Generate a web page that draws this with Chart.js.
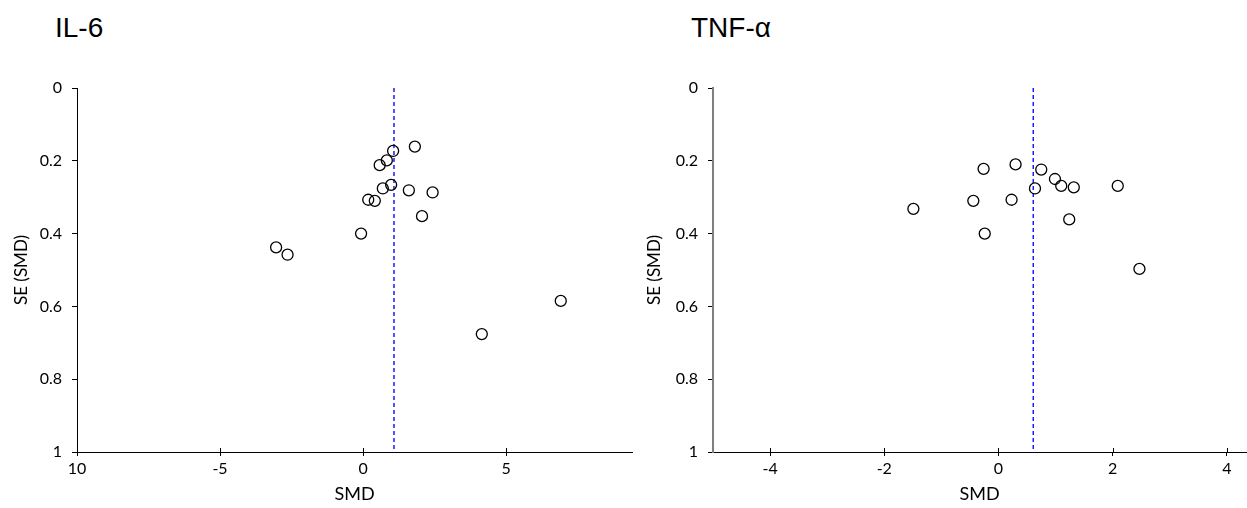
<!DOCTYPE html>
<html>
<head>
<meta charset="utf-8">
<script src="https://cdn.jsdelivr.net/npm/chart.js@4.4.1/dist/chart.umd.min.js"></script>
<style>
    body { margin: 0; background: #fff; width: 1247px; height: 508px; overflow: hidden; position: relative; }
    .panel-title { position: absolute; top: 12px; font-family: "Liberation Sans", Arial, sans-serif; font-size: 28px; color: #000; }
    canvas { position: absolute; top: 0; }
</style>
</head>
<body>
<div class="panel-title" style="left:55px">IL-6</div>
<div class="panel-title" style="left:691px">TNF-α</div>
<canvas id="chart-il6" width="645" height="508" style="left:0"></canvas>
<canvas id="chart-tnf" width="623" height="508" style="left:630px"></canvas>
<script>
// IL-6 studies
const il6Smd = [1.81, 1.05, 0.83, 0.58, 0.98, 0.69, 1.60, 2.43, 0.18, 0.41, 2.06, -0.07, -3.04, -2.64, 6.91, 4.15];
const il6Se  = [0.161, 0.173, 0.199, 0.212, 0.266, 0.276, 0.281, 0.287, 0.307, 0.310, 0.352, 0.400, 0.438, 0.458, 0.585, 0.676];
const il6Pooled = 1.08;
const il6XTicks = [-10, -5, 0, 5];
const il6XLabels = ['10', '-5', '0', '5'];

// TNF-a studies
const tnfSmd = [-1.49, -0.26, 0.30, 0.75, 0.99, 1.10, 1.32, 2.09, 0.64, -0.44, 0.23, 1.24, -0.24, 2.47];
const tnfSe  = [0.332, 0.222, 0.210, 0.224, 0.250, 0.269, 0.273, 0.269, 0.276, 0.310, 0.307, 0.361, 0.400, 0.497];
const tnfPooled = 0.61;
const tnfXTicks = [-4, -2, 0, 2, 4];
const tnfXLabels = ['-4', '-2', '0', '2', '4'];

const seTicks = [0, 0.2, 0.4, 0.6, 0.8, 1];
const seLabels = ['0', '0.2', '0.4', '0.6', '0.8', '1'];

const FONT = 'Lato, "Open Sans", sans-serif';

// small tick marks drawn inside the plot on the x axis
const innerTicks = {
    id: 'innerTicks',
    afterDraw(chart) {
        const sx = chart.scales.x;
        const ctx = chart.ctx;
        const bottom = chart.chartArea.bottom;
        ctx.save();
        ctx.strokeStyle = '#000';
        ctx.lineWidth = 1;
        sx.ticks.forEach(t => {
            const px = Math.round(sx.getPixelForValue(t.value)) + 0.5;
            ctx.beginPath();
            ctx.moveTo(px, bottom);
            ctx.lineTo(px, bottom - 4);
            ctx.stroke();
        });
        ctx.restore();
    }
};

function buildFunnel(id, smd, se, pooled, opts) {
    const points = smd.map((v, i) => ({ x: v, y: se[i] }));
    return new Chart(document.getElementById(id), {
        type: 'scatter',
        data: {
            datasets: [
                {
                    data: points,
                    pointRadius: 5.5,
                    pointBorderColor: '#000',
                    pointBackgroundColor: 'rgba(255,255,255,0)',
                    pointBorderWidth: 1.3
                },
                {
                    data: [{ x: pooled, y: 0 }, { x: pooled, y: 1 }],
                    showLine: true,
                    pointRadius: 0,
                    borderColor: '#1a1aff',
                    borderWidth: 1.5,
                    borderDash: [4, 3]
                }
            ]
        },
        options: {
            responsive: false,
            animation: false,
            layout: { padding: { top: 88, right: opts.padRight, left: 0, bottom: 0 } },
            plugins: { legend: { display: false }, tooltip: { enabled: false } },
            scales: {
                x: {
                    type: 'linear',
                    min: opts.xMin,
                    max: opts.xMax,
                    afterBuildTicks: s => { s.ticks = opts.xTicks.map(v => ({ value: v })); },
                    afterFit: s => { s.height = 56; },
                    ticks: {
                        color: '#000',
                        font: { family: FONT, size: 16 },
                        padding: 3,
                        maxRotation: 0,
                        callback: (v) => opts.xLabels[opts.xTicks.indexOf(v)]
                    },
                    grid: { drawOnChartArea: false, drawTicks: true, tickLength: 4, color: '#000' },
                    border: { color: '#000', width: 1 },
                    title: {
                        display: true,
                        text: 'SMD',
                        color: '#000',
                        font: { family: FONT, size: 18 },
                        padding: { top: 2, bottom: 3 }
                    }
                },
                y: {
                    type: 'linear',
                    reverse: true,
                    min: 0,
                    max: 1,
                    afterBuildTicks: s => { s.ticks = seTicks.map(v => ({ value: v })); },
                    afterFit: s => { s.width = opts.yWidth; },
                    ticks: {
                        color: '#000',
                        font: { family: FONT, size: 16 },
                        padding: 10,
                        callback: (v) => seLabels[seTicks.indexOf(v)]
                    },
                    grid: { drawOnChartArea: false, drawTicks: true, tickLength: 5, color: '#000' },
                    border: { color: opts.yAxisColor, width: opts.yAxisWidth },
                    title: {
                        display: true,
                        text: 'SE (SMD)',
                        color: '#000',
                        font: { family: FONT, size: 17 },
                        padding: { top: opts.yTitlePad, bottom: 0 }
                    }
                }
            }
        },
        plugins: [innerTicks]
    });
}

document.addEventListener('DOMContentLoaded', () => {
    buildFunnel('chart-il6', il6Smd, il6Se, il6Pooled, {
        xMin: -10, xMax: 9.4, xTicks: il6XTicks, xLabels: il6XLabels,
        padRight: 13, yWidth: 77, yAxisColor: '#000', yAxisWidth: 1, yTitlePad: 11
    });
    buildFunnel('chart-tnf', tnfSmd, tnfSe, tnfPooled, {
        xMin: -5, xMax: 4.34, xTicks: tnfXTicks, xLabels: tnfXLabels,
        padRight: 0, yWidth: 83, yAxisColor: '#7f7f7f', yAxisWidth: 2, yTitlePad: 14
    });
});
</script>
</body>
</html>
